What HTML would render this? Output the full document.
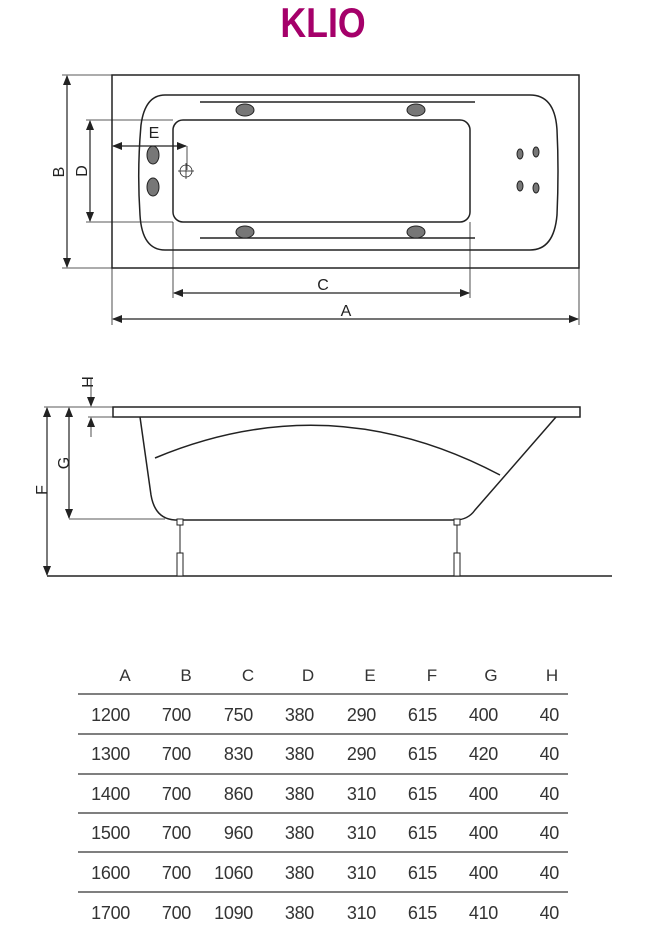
<!DOCTYPE html>
<html><head><meta charset="utf-8"><style>
body{margin:0;background:#fff;width:655px;height:928px;overflow:hidden;position:relative;font-family:"Liberation Sans",sans-serif}
.t{position:absolute;left:0;top:0}
</style></head><body>
<svg class="t" width="655" height="928" viewBox="0 0 655 928">
<defs><marker id="ar" markerWidth="10" markerHeight="8" refX="9" refY="4" orient="auto-start-reverse" markerUnits="userSpaceOnUse"><path d="M0,0 L10,4 L0,8 Z" fill="#222"/></marker></defs>
<text x="323" y="37" text-anchor="middle" font-size="42" font-weight="bold" fill="#a5006a" transform="translate(323 0) scale(0.85 1) translate(-323 0)">KLIO</text>
<g fill="none" stroke="#222" stroke-width="1.5">
<rect x="112" y="75" width="467" height="193"/>
<path d="M165,95 H530 Q555,95 557,130 Q559,170 557,215 Q554,250 530,250 H165 Q142,250 140,215 Q137,170 141,125 Q145,95 165,95 Z"/>
<rect x="173" y="120" width="297" height="102" rx="10"/>
<line x1="200" y1="102" x2="475" y2="102"/>
<line x1="200" y1="238" x2="475" y2="238"/>
</g>
<g fill="#777" stroke="#222" stroke-width="1">
<ellipse cx="245" cy="110" rx="9" ry="6"/><ellipse cx="416" cy="110" rx="9" ry="6"/>
<ellipse cx="245" cy="232" rx="9" ry="6"/><ellipse cx="416" cy="232" rx="9" ry="6"/>
<ellipse cx="153" cy="155" rx="6" ry="9"/><ellipse cx="153" cy="187" rx="6" ry="9"/>
<ellipse cx="520" cy="154" rx="3" ry="5"/><ellipse cx="536" cy="152" rx="3" ry="5"/>
<ellipse cx="520" cy="186" rx="3" ry="5"/><ellipse cx="536" cy="188" rx="3" ry="5"/>
</g>
<g fill="none" stroke="#222" stroke-width="0.8">
<line x1="62" y1="75" x2="112" y2="75"/><line x1="62" y1="268" x2="112" y2="268"/>
<line x1="86" y1="120" x2="173" y2="120"/><line x1="86" y1="222" x2="173" y2="222"/>
<line x1="112" y1="268" x2="112" y2="325"/><line x1="579" y1="268" x2="579" y2="325"/>
<line x1="173" y1="222" x2="173" y2="298"/><line x1="470" y1="222" x2="470" y2="298"/>
<line x1="187" y1="146" x2="187" y2="170"/>
<circle cx="186" cy="171" r="6"/><line x1="178" y1="171" x2="194" y2="171"/><line x1="186" y1="163" x2="186" y2="179"/>
</g>
<g stroke="#222" stroke-width="1.2" marker-start="url(#ar)" marker-end="url(#ar)">
<line x1="67" y1="76" x2="67" y2="267"/>
<line x1="90" y1="121" x2="90" y2="221"/>
<line x1="113" y1="146" x2="186" y2="146"/>
<line x1="174" y1="293" x2="469" y2="293"/>
<line x1="113" y1="319" x2="578" y2="319"/>
</g>
<g font-size="16" fill="#222">
<text x="154" y="138" text-anchor="middle">E</text>
<text x="323" y="290" text-anchor="middle">C</text>
<text x="346" y="316" text-anchor="middle">A</text>
<text transform="translate(64 172) rotate(-90)" text-anchor="middle">B</text>
<text transform="translate(87 171) rotate(-90)" text-anchor="middle">D</text>
<text transform="translate(47 490) rotate(-90)" text-anchor="middle">F</text>
<text transform="translate(69 463) rotate(-90)" text-anchor="middle">G</text>
<text transform="translate(93 382) rotate(-90)" text-anchor="middle">H</text>
</g>
<g fill="none" stroke="#222" stroke-width="1.5">
<rect x="113" y="407" width="467" height="10"/>
<path d="M140,417 L151,495 Q155,519 175,520 L455,520 Q468,520 475,510 L556,417"/>
<path d="M155,458 Q330,385 500,475"/>
<line x1="47" y1="576" x2="612" y2="576"/>
</g>
<g fill="#fff" stroke="#222" stroke-width="1">
<rect x="177" y="519" width="6" height="6"/><rect x="454" y="519" width="6" height="6"/>
<line x1="180" y1="525" x2="180" y2="553"/><line x1="457" y1="525" x2="457" y2="553"/>
<rect x="177" y="553" width="6" height="23"/><rect x="454" y="553" width="6" height="23"/>
</g>
<g stroke="#222" stroke-width="0.8">
<line x1="44" y1="407" x2="113" y2="407"/>
<line x1="88" y1="417" x2="113" y2="417"/>
<line x1="69" y1="519" x2="165" y2="519"/>
<line x1="91" y1="378" x2="91" y2="406" marker-end="url(#ar)"/>
<line x1="91" y1="437" x2="91" y2="418" marker-end="url(#ar)"/>
</g>
<g stroke="#222" stroke-width="1.2" marker-start="url(#ar)" marker-end="url(#ar)">
<line x1="47" y1="408" x2="47" y2="575"/>
<line x1="69" y1="408" x2="69" y2="518"/>
</g>
<g stroke="#555" stroke-width="1.5">
<line x1="78" y1="694" x2="568" y2="694"/><line x1="78" y1="734" x2="568" y2="734"/>
<line x1="78" y1="774" x2="568" y2="774"/><line x1="78" y1="813" x2="568" y2="813"/>
<line x1="78" y1="852" x2="568" y2="852"/><line x1="78" y1="892" x2="568" y2="892"/>
</g>
<g font-size="17" fill="#333" text-anchor="middle">
<text x="125" y="681">A</text><text x="186" y="681">B</text><text x="248" y="681">C</text><text x="308" y="681">D</text><text x="370" y="681">E</text><text x="432" y="681">F</text><text x="491" y="681">G</text><text x="552" y="681">H</text>
</g>
<g font-size="18" fill="#333" text-anchor="end" letter-spacing="-0.3">
<text y="721"><tspan x="130">1200</tspan><tspan x="191">700</tspan><tspan x="253">750</tspan><tspan x="314">380</tspan><tspan x="376">290</tspan><tspan x="437">615</tspan><tspan x="498">400</tspan><tspan x="559">40</tspan></text>
<text y="760"><tspan x="130">1300</tspan><tspan x="191">700</tspan><tspan x="253">830</tspan><tspan x="314">380</tspan><tspan x="376">290</tspan><tspan x="437">615</tspan><tspan x="498">420</tspan><tspan x="559">40</tspan></text>
<text y="800"><tspan x="130">1400</tspan><tspan x="191">700</tspan><tspan x="253">860</tspan><tspan x="314">380</tspan><tspan x="376">310</tspan><tspan x="437">615</tspan><tspan x="498">400</tspan><tspan x="559">40</tspan></text>
<text y="839"><tspan x="130">1500</tspan><tspan x="191">700</tspan><tspan x="253">960</tspan><tspan x="314">380</tspan><tspan x="376">310</tspan><tspan x="437">615</tspan><tspan x="498">400</tspan><tspan x="559">40</tspan></text>
<text y="879"><tspan x="130">1600</tspan><tspan x="191">700</tspan><tspan x="253">1060</tspan><tspan x="314">380</tspan><tspan x="376">310</tspan><tspan x="437">615</tspan><tspan x="498">400</tspan><tspan x="559">40</tspan></text>
<text y="919"><tspan x="130">1700</tspan><tspan x="191">700</tspan><tspan x="253">1090</tspan><tspan x="314">380</tspan><tspan x="376">310</tspan><tspan x="437">615</tspan><tspan x="498">410</tspan><tspan x="559">40</tspan></text>
</g>
</svg>
</body></html>
